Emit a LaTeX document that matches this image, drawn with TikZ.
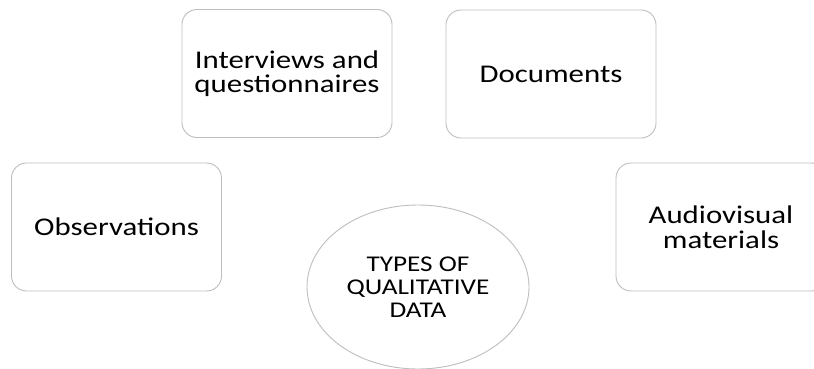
\documentclass[tikz,border=0pt]{standalone}
\usepackage{fontspec}
\setmainfont[FakeStretch=1.21]{Carlito}
\usetikzlibrary{shapes.geometric}
\definecolor{edgegray}{RGB}{190,190,190}
\tikzset{
  itembox/.style={draw=edgegray, line width=0.9pt, rounded corners=15pt, minimum width=210pt, minimum height=128pt, inner sep=0pt, align=center, font=\fontsize{25.5}{24.5}\selectfont},
  hub/.style={draw=edgegray, line width=0.9pt, ellipse, minimum width=222pt, minimum height=164pt, inner sep=0pt, align=center, font=\fontsize{22.5}{23}\selectfont}
}
\begin{document}
\begin{tikzpicture}[x=1pt, y=-1pt]
\useasboundingbox (0,0) rectangle (814,369);
\clip (0,0) rectangle (814,369);
\fill[white] (0,0) rectangle (814,369);
\node[itembox] (interviews) at (287,73.5) {Interviews and\\questionnaires};
\node[itembox] (documents) at (551,74) {Documents};
\node[itembox] (observations) at (116.5,227) {Observations};
\node[itembox] (audiovisual) at (721,227) {Audiovisual\\materials};
\node[hub] (types) at (418,287) {TYPES OF\\QUALITATIVE\\DATA};
\end{tikzpicture}
\end{document}
